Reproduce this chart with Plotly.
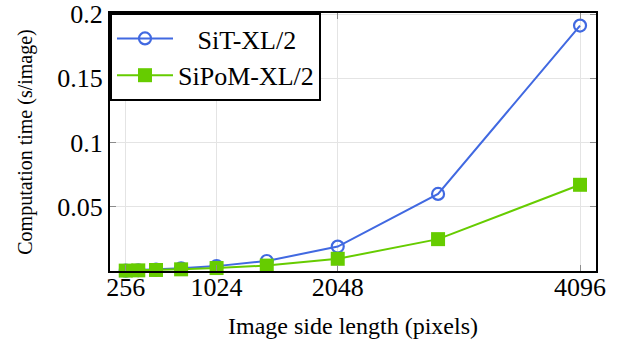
import plotly.graph_objects as go

sizes = [256, 362, 512, 724, 1024, 1448, 2048, 2896, 4096]
sit_time = [0.0003, 0.0006, 0.0011, 0.0021, 0.0038, 0.0078, 0.0190, 0.0600, 0.1910]
sipom_time = [0.0003, 0.0005, 0.0008, 0.0013, 0.0023, 0.0042, 0.0095, 0.0248, 0.0671]
x_ticks = [256, 1024, 2048, 4096]
y_ticks = [0.05, 0.1, 0.15, 0.2]
y_ticktext = ["0.05", "0.1", "0.15", "0.2"]
series_names = ["\u00a0\u00a0\u00a0SiT-XL/2", "SiPoM-XL/2"]

FONT = "Liberation Serif, Times New Roman, serif"
BLUE = "#4169e1"
GREEN = "#66cc00"

fig = go.Figure()
fig.add_trace(go.Scatter(
    x=sizes, y=sit_time, name=series_names[0], mode="lines+markers",
    line=dict(color=BLUE, width=2),
    marker=dict(symbol="circle-open", size=12, color=BLUE, line=dict(width=2.2, color=BLUE)),
    cliponaxis=False,
))
fig.add_trace(go.Scatter(
    x=sizes, y=sipom_time, name=series_names[1], mode="lines+markers",
    line=dict(color=GREEN, width=2),
    marker=dict(symbol="square", size=14, color=GREEN),
    cliponaxis=False,
))

axis_common = dict(
    showline=True, linecolor="black", linewidth=2, mirror="ticks",
    ticks="inside", ticklen=6, tickcolor="#8c8c8c", tickwidth=1,
    showgrid=True, gridcolor="#e4e4e4", gridwidth=1, zeroline=False,
    tickfont=dict(family=FONT, size=26, color="black"),
    ticklabeloverflow="allow",
)

fig.update_xaxes(
    range=[123, 4231], tickvals=x_ticks, ticktext=[str(v) for v in x_ticks],
    ticklabelstandoff=-8,
    title=dict(text="Image side length (pixels)", font=dict(family=FONT, size=24, color="black"), standoff=16),
    **axis_common,
)
fig.update_yaxes(
    range=[0, 0.2008], tickvals=y_ticks, ticktext=y_ticktext,
    title=dict(text="Computation time (s/image)", font=dict(family=FONT, size=20, color="black"), standoff=19),
    **axis_common,
)

fig.update_layout(
    width=621, height=341,
    margin=dict(l=110, r=25, t=13, b=70, autoexpand=False),
    paper_bgcolor="white", plot_bgcolor="white",
    showlegend=True,
    legend=dict(
        x=0, y=1, xanchor="left", yanchor="top",
        bgcolor="white", bordercolor="black", borderwidth=2,
        font=dict(family=FONT, size=26, color="black"),
        tracegroupgap=0, itemwidth=56,
    ),
)

fig.write_html(
    "out.html",
    config={"displayModeBar": False},
    post_script="document.body.style.margin='0px';",
)
